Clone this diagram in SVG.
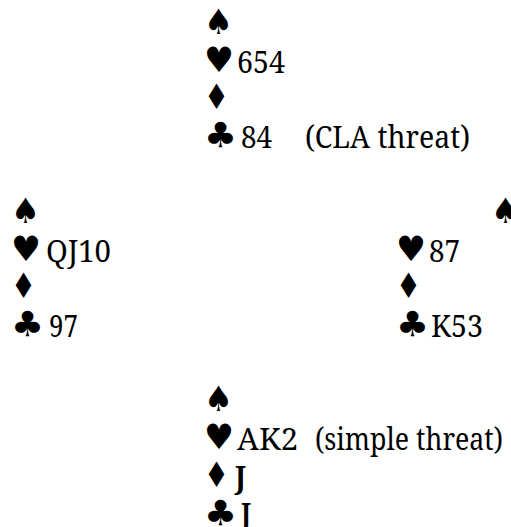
<svg xmlns="http://www.w3.org/2000/svg" width="511" height="527" viewBox="0 0 511 527">
<style>
text{font-family:'Noto Serif','Liberation Serif','DejaVu Serif',serif;font-size:30px;fill:#000}
text.s{font-family:'DejaVu Sans',sans-serif;font-size:35px}
text.b{font-weight:bold}
</style>
<rect width="511" height="527" fill="#fff"/>
<g id="north">
<text class="s" x="204" y="34" textLength="29" lengthAdjust="spacingAndGlyphs">♠</text>
<text class="s" x="204" y="72" textLength="30" lengthAdjust="spacingAndGlyphs">♥</text><text x="237" y="73" textLength="48" lengthAdjust="spacingAndGlyphs">654</text>
<text class="s" x="204" y="109" textLength="25" lengthAdjust="spacingAndGlyphs">♦</text>
<text class="s" x="204" y="147" textLength="33" lengthAdjust="spacingAndGlyphs">♣</text><text x="241" y="148.4" textLength="31" lengthAdjust="spacingAndGlyphs">84</text><text x="305" y="148.4" textLength="165" lengthAdjust="spacingAndGlyphs">(CLA threat)</text>
</g>
<g id="west">
<text class="s" x="11" y="222.5" textLength="29" lengthAdjust="spacingAndGlyphs">♠</text>
<text class="s" x="11" y="260.5" textLength="30" lengthAdjust="spacingAndGlyphs">♥</text><text x="46" y="261.5" textLength="65" lengthAdjust="spacingAndGlyphs">QJ10</text>
<text class="s" x="11" y="298" textLength="25" lengthAdjust="spacingAndGlyphs">♦</text>
<text class="s" x="11" y="336" textLength="33" lengthAdjust="spacingAndGlyphs">♣</text><text x="49" y="336.9" textLength="29" lengthAdjust="spacingAndGlyphs">97</text>
</g>
<g id="east">
<text class="s" x="491" y="222.5" textLength="29" lengthAdjust="spacingAndGlyphs">♠</text>
<text class="s" x="396" y="260.5" textLength="30" lengthAdjust="spacingAndGlyphs">♥</text><text x="429" y="261.5" textLength="31" lengthAdjust="spacingAndGlyphs">87</text>
<text class="s" x="396" y="298" textLength="25" lengthAdjust="spacingAndGlyphs">♦</text>
<text class="s" x="396" y="336" textLength="33" lengthAdjust="spacingAndGlyphs">♣</text><text x="431" y="336.9" textLength="52" lengthAdjust="spacingAndGlyphs">K53</text>
</g>
<g id="south">
<text class="s" x="204" y="411" textLength="29" lengthAdjust="spacingAndGlyphs">♠</text>
<text class="s" x="204" y="449" textLength="30" lengthAdjust="spacingAndGlyphs">♥</text><text x="237" y="450" textLength="61" lengthAdjust="spacingAndGlyphs">AK2</text><text x="315" y="450" textLength="188" lengthAdjust="spacingAndGlyphs">(simple threat)</text>
<text class="s" x="204" y="486.5" textLength="25" lengthAdjust="spacingAndGlyphs">♦</text><text class="b" x="235" y="487.7" textLength="11" lengthAdjust="spacingAndGlyphs">J</text>
<text class="s" x="204" y="524.5" textLength="33" lengthAdjust="spacingAndGlyphs">♣</text><text class="b" x="241" y="525.4" textLength="10" lengthAdjust="spacingAndGlyphs">J</text>
</g>
<g id="connectors"/>
</svg>
